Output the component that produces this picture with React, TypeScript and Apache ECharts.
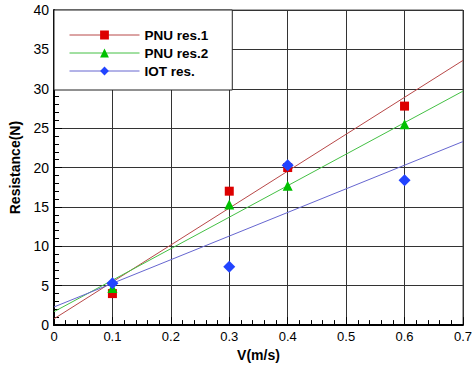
import React, { useEffect, useRef } from "react";
import * as echarts from "echarts";

// Measured points
const xValues = [0.1, 0.3, 0.4, 0.6];
const pnu1 = [4.0, 17.0, 20.0, 27.8];
const pnu2 = [4.7, 15.3, 17.7, 25.5];
const iot = [5.3, 7.4, 20.3, 18.4];

// Trend lines (values at x = 0 and x = 0.7)
const trendX = [0, 0.7];
const trend1 = [0.8, 33.6];
const trend2 = [1.7, 29.7];
const trend3 = [2.3, 23.3];

const names = ["PNU res.1", "PNU res.2", "IOT res."];
const markerColors = ["#dd0000", "#00c000", "#2244ff"];
const lineColors = ["#b84848", "#44c044", "#6666d0"];
const symbols = ["rect", "triangle", "diamond"];
const symbolSizes = [9, 10, 12];

const FONT = "Liberation Sans, Arial, sans-serif";

export default function App() {
  const ref = useRef<HTMLDivElement>(null);
  useEffect(() => {
    if (!ref.current) return;
    const chart = echarts.init(ref.current, null, { renderer: "svg" });
    const pts = [pnu1, pnu2, iot];
    const trends = [trend1, trend2, trend3];
    const lineSeries = trends.map((t, i) => ({
      name: names[i],
      type: "line",
      data: trendX.map((x, k) => [x, t[k]]),
      symbol: symbols[i],
      showSymbol: false,
      itemStyle: { color: markerColors[i] },
      lineStyle: { color: lineColors[i], width: 1 },
      z: 3,
    }));
    const scatterSeries = pts.map((p, i) => ({
      name: "pts" + i,
      type: "scatter",
      data: xValues.map((x, k) => [x, p[k]]),
      symbol: symbols[i],
      symbolSize: symbolSizes[i],
      itemStyle: { color: markerColors[i], opacity: 1 },
      z: 4,
    }));
    const axisLine = { show: true, lineStyle: { color: "#000", width: 2 } };
    const splitLine = { show: true, lineStyle: { color: "#333", width: 1 } };
    chart.setOption({
      animation: false,
      grid: {
        left: 54,
        right: 8,
        top: 10,
        bottom: 34,
        show: true,
        borderColor: "#555",
        borderWidth: 1,
      },
      legend: {
        data: names,
        orient: "vertical",
        left: 54,
        top: 10,
        itemWidth: 70,
        itemHeight: 11,
        itemGap: 4,
        padding: [18, 24, 12, 15],
        backgroundColor: "#fff",
        borderColor: "#222",
        borderWidth: 1,
        lineStyle: { width: 1 },
        textStyle: { fontFamily: FONT, fontWeight: "bold", fontSize: 13.5, color: "#000" },
      },
      xAxis: {
        type: "value",
        min: 0,
        max: 0.7,
        interval: 0.1,
        name: "V(m/s)",
        nameLocation: "middle",
        nameGap: 20,
        nameTextStyle: { fontFamily: FONT, fontWeight: "bold", fontSize: 14, color: "#000" },
        axisLine,
        axisTick: { show: true, inside: true, length: 8, lineStyle: { color: "#000" } },
        minorTick: { show: true, splitNumber: 5, length: 5, lineStyle: { color: "#000" } },
        axisLabel: { fontFamily: FONT, fontSize: 13, color: "#000", margin: 5 },
        splitLine,
      },
      yAxis: {
        type: "value",
        min: 0,
        max: 40,
        interval: 5,
        name: "Resistance(N)",
        nameLocation: "middle",
        nameGap: 32,
        nameTextStyle: { fontFamily: FONT, fontWeight: "bold", fontSize: 14, color: "#000" },
        axisLine,
        axisTick: { show: true, inside: true, length: 8, lineStyle: { color: "#000" } },
        minorTick: { show: true, splitNumber: 5, length: 5, lineStyle: { color: "#000" } },
        axisLabel: { fontFamily: FONT, fontSize: 14, color: "#000", margin: 5 },
        splitLine,
      },
      series: [...lineSeries, ...scatterSeries],
    });
    return () => chart.dispose();
  }, []);
  return (
    <div
      ref={ref}
      style={{ position: "fixed", left: 0, top: 0, width: 475, height: 367, background: "#fff" }}
    />
  );
}
